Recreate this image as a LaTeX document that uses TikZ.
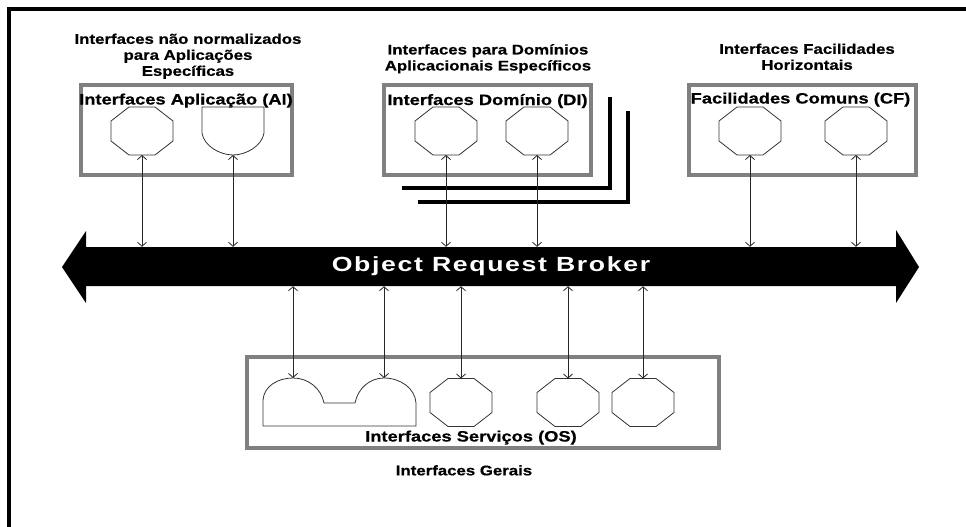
\documentclass[tikz,border=0pt]{standalone}
\usepackage{fontspec}
\setmainfont{Liberation Sans}
\newfontfamily\capfont[FakeStretch=1.2,FakeBold=0.6]{Liberation Sans}
\newfontfamily\titfont[FakeStretch=1.22,FakeBold=0.6]{Liberation Sans}
\newfontfamily\orbfont[FakeStretch=1.3,LetterSpace=8]{Liberation Sans}
\usetikzlibrary{arrows.meta}
\definecolor{boxgray}{RGB}{128,128,128}
\tikzset{
  grpbox/.style={draw=boxgray, line width=4pt, inner sep=0pt},
  link/.style={{Straight Barb[length=4pt,width=9pt]}-{Straight Barb[length=4pt,width=9pt]}, line width=0.8pt, draw=black!85},
  shp/.style={draw=black!80, line width=0.8pt, line join=miter},
  captxt/.style={font={\capfont\bfseries\fontsize{14}{16}\selectfont}, align=center, inner sep=0pt, anchor=north},
  tittxt/.style={font={\titfont\bfseries\fontsize{15}{17}\selectfont}, inner sep=0pt, anchor=base},
  stackline/.style={line width=4pt, draw=black},
  oct/.pic={
    \draw[shp] (-13,-24) -- (13,-24) -- (31,-10) -- (31,10) -- (13,24) -- (-13,24) -- (-31,10) -- (-31,-10) -- cycle;
    \coordinate (-top) at (0,-24);
    \coordinate (-bot) at (0,24);
  },
}
\begin{document}
\begin{tikzpicture}[x=1pt,y=-1pt]
\useasboundingbox (0,0) rectangle (966,527);
\fill[white] (0,0) rectangle (966,527);
% outer frame
\draw[line width=3.3pt, line join=miter] (9,527) -- (9,9) -- (966,9);

% ORB arrow
\fill[black] (62,267) -- (86,231) -- (86,247) -- (896,247) -- (896,230) -- (919,267) -- (896,303) -- (896,286) -- (86,286) -- (86,303) -- cycle;
\node[font={\orbfont\bfseries\fontsize{20.5}{24}\selectfont}, text=white, inner sep=0pt, minimum width=810pt, minimum height=39pt] (orb) at (491,266.5) {Object Request Broker};

% stack lines behind DI
\draw[stackline] (402,188) -- (610,188) -- (610,97);
\draw[stackline] (418,202) -- (628,202) -- (628,111);

% group boxes
\node[grpbox, fill=white, minimum width=211pt, minimum height=90pt] (ai) at (186.5,130) {};
\node[grpbox, fill=white, minimum width=207pt, minimum height=90pt] (di) at (487.5,130) {};
\node[grpbox, fill=white, minimum width=227pt, minimum height=90pt] (cf) at (802.5,130) {};
\node[grpbox, minimum width=472pt, minimum height=91pt] (os) at (483,402.5) {};

% captions
\node[captxt] (capai) at (188,33.5) {Interfaces não normalizados\\para Aplicações\\Específicas};
\node[captxt] (capdi) at (488,44) {Interfaces para Domínios\\Aplicacionais Específicos};
\node[captxt] (capcf) at (807,43.5) {Interfaces Facilidades\\Horizontais};
\node[captxt] (capos) at (464,465) {Interfaces Gerais};

% box titles
\node[tittxt] (tai) at (186,104.5) {Interfaces Aplicação (AI)};
\node[tittxt] (tdi) at (487.5,105) {Interfaces Domínio (DI)};
\node[tittxt] (tcf) at (800.5,103.5) {Facilidades Comuns (CF)};
\node[tittxt] (tos) at (471,441.5) {Interfaces Serviços (OS)};

% AI shapes
\pic (a1) at (142,131) {oct};
\draw[shp] (202,107) -- (264,107) -- (264,133) .. controls (262,146) and (246,155) .. (233,155) coordinate (a2-bot)
  .. controls (220,155) and (204,146) .. (202,133) -- cycle;
% DI shapes
\pic (d1) at (446,131) {oct};
\pic (d2) at (537,131) {oct};
% CF shapes
\pic (c1) at (750,131) {oct};
\pic (c2) at (856,131) {oct};
% OS shapes
\draw[shp] (263,426) -- (263,400) .. controls (264,386) and (278,378) .. (293,378) coordinate (s1-top)
  .. controls (308,378) and (321,388) .. (324,403) -- (355,403)
  .. controls (358,388) and (370,378) .. (384,378) coordinate (s2-top)
  .. controls (400,378) and (415,388) .. (416,403) -- (416,426) -- cycle;
\pic (s3) at (461,402.5) {oct};
\pic (s4) at (568,402.5) {oct};
\pic (s5) at (643,402.5) {oct};

% connectors to ORB
\foreach \n in {a1,d1,d2,c1,c2}
  \draw[link] (\n-bot) -- (\n-bot |- orb.north);
\draw[link] (a2-bot) -- (a2-bot |- orb.north);
\foreach \n in {s1,s2}
  \draw[link] (\n-top |- orb.south) -- (\n-top);
\foreach \n in {s3,s4,s5}
  \draw[link] (\n-top |- orb.south) -- (\n-top);
\end{tikzpicture}
\end{document}
